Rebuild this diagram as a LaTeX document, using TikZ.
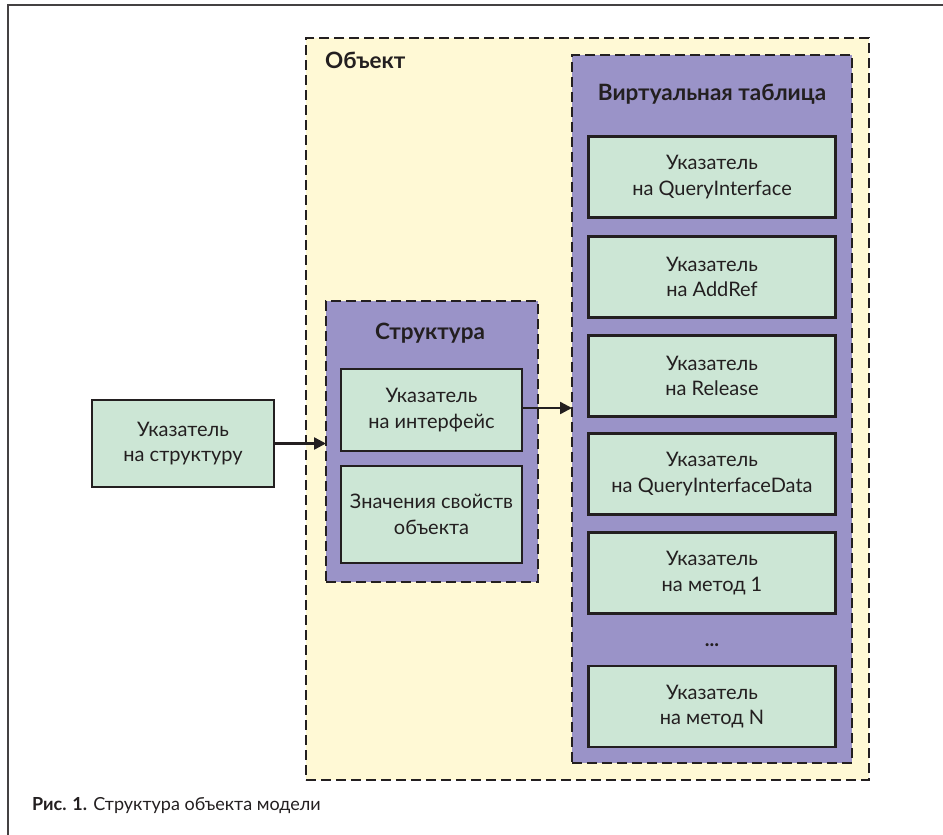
\documentclass[tikz,border=0pt]{standalone}
\usepackage{fontspec}
\setmainfont{Lato}
\usetikzlibrary{arrows.meta}
\definecolor{objfill}{HTML}{FFF9D5}
\definecolor{purp}{HTML}{9A93C8}
\definecolor{grn}{HTML}{CCE6D5}
\definecolor{ink}{HTML}{231F20}
\begin{document}
\begin{tikzpicture}[x=1pt,y=-1pt,
  cell/.style={draw=ink, line width=2.6pt, fill=grn, minimum height=81pt, align=center,
    font=\fontsize{20}{25.5}\selectfont, text=ink, inner sep=0pt, outer sep=0pt},
  vcell/.style={cell, minimum width=247pt},
  grp/.style={draw=ink, line width=2.4pt, dash pattern=on 10pt off 5pt, inner sep=0pt, outer sep=0pt, anchor=north west},
  ttl/.style={font=\fontsize{22.5}{26}\selectfont\bfseries, text=ink, inner sep=0pt},
  arr/.style={draw=ink, line width=2.4pt, -{Triangle[length=12pt,width=12pt]}}
]
\useasboundingbox (0,0) rectangle (943,835);
\draw[line width=1.2pt, ink!85] (943,5) -- (8,5) -- (8,835);

% Object
\node[grp, fill=objfill, minimum width=563pt, minimum height=742pt] (obj) at (306,38) {};
\node[ttl, anchor=base west] (objt) at (325,68) {Объект};

% Virtual table
\node[grp, fill=purp, minimum width=280pt, minimum height=708pt] (vt) at (572,55) {};
\node[ttl, anchor=base] (vtt) at (712,100) {Виртуальная таблица};
\node[vcell] (v1) at (712,177) {Указатель\\на QueryInterface};
\node[vcell] (v2) at (712,277) {Указатель\\на AddRef};
\node[vcell] (v3) at (712,376) {Указатель\\на Release};
\node[vcell] (v4) at (712,474) {Указатель\\на QueryInterfaceData};
\node[vcell] (v5) at (712,573) {Указатель\\на метод 1};
\node[font=\fontsize{20}{22}\selectfont\bfseries, text=ink, inner sep=0pt, anchor=base] (dots) at (712,646) {...};
\node[vcell] (vn) at (712,706.5) {Указатель\\на метод N};

% Structure
\node[grp, fill=purp, minimum width=212pt, minimum height=281pt] (str) at (326,301) {};
\node[ttl, anchor=base] (strt) at (430,339) {Структура};
\node[cell, minimum width=181pt, minimum height=82pt] (iface) at (431.5,410) {Указатель\\на интерфейс};
\node[cell, minimum width=181pt, minimum height=97pt] (vals) at (431.5,514.5) {Значения свойств\\объекта};

% Pointer to structure
\node[cell, minimum width=182pt, minimum height=87pt] (ptr) at (183,443.5) {Указатель\\на структуру};

% Arrows
\draw[arr] (ptr) -- (ptr -| str.west);
\draw[arr] (iface.east |- 0,408) -- (vt.west |- 0,408);

% Caption
\node[anchor=base west, inner sep=0pt, text=ink, font=\fontsize{18}{21}\selectfont] (cap) at (32,810) {\textbf{Рис. 1.} Структура объекта модели};
\end{tikzpicture}
\end{document}
